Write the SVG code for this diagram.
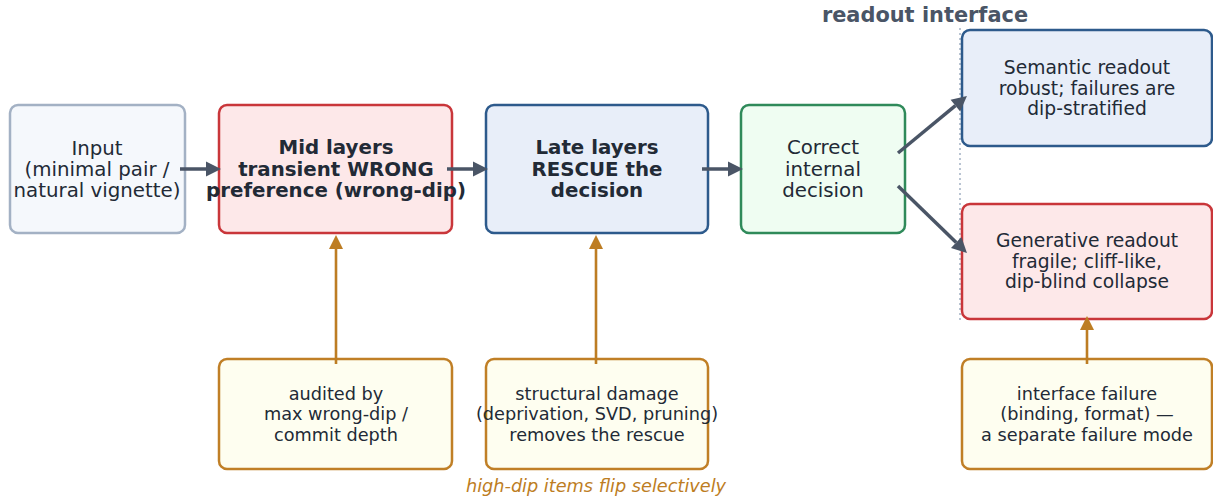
<svg xmlns="http://www.w3.org/2000/svg" width="1213" height="499" viewBox="0 0 1213 499">
<style>
text{font-family:"DejaVu Sans",sans-serif;font-size:18.7px;fill:#222a36;text-anchor:middle}
.t{font-size:19.8px}
.s{font-size:17.7px}
.b{font-weight:bold}
.box{stroke-width:2.5}
.gray{fill:#f5f8fc;stroke:#a3b1c4}
.red{fill:#fde8e9;stroke:#c9363a}
.blue{fill:#e8eef9;stroke:#2d5a8c}
.green{fill:#effdf2;stroke:#2f8a5a}
.org{fill:#fefef0;stroke:#c07f26}
.ga{stroke:#4a5566;stroke-width:3.5;fill:none}
.oa{stroke:#bd7d23;stroke-width:2.6;fill:none}
</style>
<defs>
<marker id="gh" markerUnits="userSpaceOnUse" markerWidth="16" markerHeight="16" refX="0" refY="7.5" orient="auto" overflow="visible"><path d="M0,0 L15,7.5 L0,15 z" fill="#4a5566"/></marker>
<marker id="oh" markerUnits="userSpaceOnUse" markerWidth="16" markerHeight="16" refX="0" refY="7" orient="auto" overflow="visible"><path d="M0,0 L14,7 L0,14 z" fill="#bd7d23"/></marker>
</defs>
<text class="b" x="925" y="22" style="font-size:20.9px;fill:#4a5566">readout interface</text>
<line x1="960" y1="28" x2="960" y2="321" stroke="#a3b1c4" stroke-width="1.5" stroke-dasharray="2,3"/>
<g id="input"><rect class="box gray" x="10" y="105" width="175" height="128" rx="8"/>
<text class="t" x="97" y="155">Input</text><text class="t" x="97" y="176">(minimal pair /</text><text class="t" x="97" y="197">natural vignette)</text></g>
<g id="mid"><rect class="box red" x="219" y="105" width="233" height="128" rx="8"/>
<text class="t b" x="336" y="154">Mid layers</text><text class="t b" x="336" y="176">transient WRONG</text><text class="t b" x="336" y="197">preference (wrong-dip)</text></g>
<g id="late"><rect class="box blue" x="486" y="105" width="222" height="128" rx="8"/>
<text class="t b" x="597" y="154">Late layers</text><text class="t b" x="597" y="176">RESCUE the</text><text class="t b" x="597" y="197">decision</text></g>
<g id="correct"><rect class="box green" x="741" y="105" width="164" height="128" rx="8"/>
<text class="t" x="823" y="154">Correct</text><text class="t" x="823" y="176">internal</text><text class="t" x="823" y="197">decision</text></g>
<g id="semantic"><rect class="box blue" x="962" y="30" width="250" height="116" rx="8"/>
<text x="1087" y="74">Semantic readout</text><text x="1087" y="95">robust; failures are</text><text x="1087" y="115">dip-stratified</text></g>
<g id="generative"><rect class="box red" x="962" y="204" width="250" height="115" rx="8"/>
<text x="1087" y="247">Generative readout</text><text x="1087" y="268">fragile; cliff-like,</text><text x="1087" y="288">dip-blind collapse</text></g>
<g id="audited"><rect class="box org" x="219" y="359" width="233" height="110" rx="8"/>
<text class="s" x="336" y="400">audited by</text><text class="s" x="336" y="420">max wrong-dip /</text><text class="s" x="336" y="441">commit depth</text></g>
<g id="structural"><rect class="box org" x="486" y="359" width="222" height="110" rx="8"/>
<text class="s" x="597" y="400">structural damage</text><text class="s" x="597" y="420">(deprivation, SVD, pruning)</text><text class="s" x="597" y="441">removes the rescue</text></g>
<g id="interface"><rect class="box org" x="962" y="359" width="250" height="110" rx="8"/>
<text class="s" x="1087" y="400">interface failure</text><text class="s" x="1087" y="420">(binding, format) —</text><text class="s" x="1087" y="441">a separate failure mode</text></g>
<text class="s" x="596" y="492" style="font-style:italic;fill:#bd7d23">high-dip items flip selectively</text>
<g id="connectors">
<line class="ga" x1="180" y1="169" x2="206" y2="169" marker-end="url(#gh)"/>
<line class="ga" x1="447" y1="169" x2="473" y2="169" marker-end="url(#gh)"/>
<line class="ga" x1="702" y1="169" x2="728" y2="169" marker-end="url(#gh)"/>
<line class="ga" x1="898" y1="153" x2="955.4" y2="105.6" marker-end="url(#gh)"/>
<line class="ga" x1="898" y1="186" x2="956.2" y2="242.5" marker-end="url(#gh)"/>
<line class="oa" x1="336" y1="364" x2="336" y2="249" marker-end="url(#oh)"/>
<line class="oa" x1="596" y1="364" x2="596" y2="249" marker-end="url(#oh)"/>
<line class="oa" x1="1087" y1="364" x2="1087" y2="330" marker-end="url(#oh)"/>
</g>
</svg>
